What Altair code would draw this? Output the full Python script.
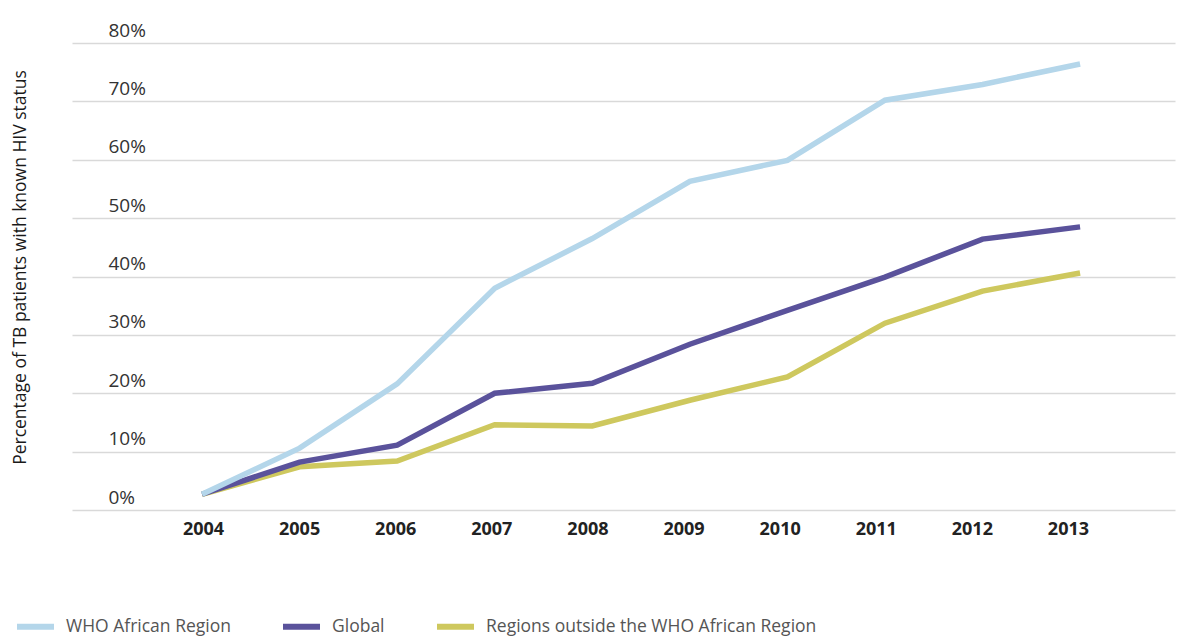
import altair as alt
import pandas as pd

years = [2004, 2005, 2006, 2007, 2008, 2009, 2010, 2011, 2012, 2013]
african = [2.7, 10.6, 21.6, 38.0, 46.5, 56.3, 59.9, 70.2, 72.9, 76.4]
global_ = [2.7, 8.2, 11.1, 20.0, 21.7, 28.4, 34.2, 39.9, 46.4, 48.5]
outside = [2.7, 7.4, 8.4, 14.6, 14.4, 18.8, 22.8, 32.0, 37.5, 40.6]

series_names = ["WHO African Region", "Global", "Regions outside the WHO African Region"]
series_colors = ["#b4d6ea", "#5a529b", "#cec85e"]
y_ticks = [0, 10, 20, 30, 40, 50, 60, 70, 80]

rows = []
for name, vals in [(series_names[2], outside), (series_names[1], global_), (series_names[0], african)]:
    for yr, v in zip(years, vals):
        rows.append({"year": yr, "value": v, "series": name})
df = pd.DataFrame(rows)
year_df = pd.DataFrame({"year": years})

FONT = "Open Sans"

lines = alt.Chart(df).mark_line(strokeWidth=5.5).encode(
    x=alt.X("year:Q", scale=alt.Scale(domain=[2002.667, 2013.973], nice=False, zero=False), axis=None),
    y=alt.Y(
        "value:Q",
        scale=alt.Scale(domain=[0, 80], nice=False),
        axis=alt.Axis(
            values=y_ticks,
            labelExpr="datum.value + '%'",
            grid=True, gridColor="#d9d9d9", gridWidth=1.5,
            domain=False, ticks=False,
            labelAlign="left", labelPadding=-36, labelBaseline="alphabetic",
            labelOffset=-7, labelFlush=False,
            labelFontSize=19, labelColor="#333333", labelFont=FONT,
            title="Percentage of TB patients with known HIV status",
            titleFontSize=17.5, titleFontWeight="normal", titleColor="#1a1a1a", titleFont=FONT,
            titleX=-52, titleY=224, titleBaseline="middle", titleAlign="center",
        ),
    ),
    color=alt.Color(
        "series:N",
        scale=alt.Scale(domain=series_names, range=series_colors),
        legend=alt.Legend(
            orient="none", legendX=-58, legendY=562, direction="horizontal",
            title=None, symbolType="stroke", symbolStrokeWidth=6, symbolSize=1369,
            labelFontSize=17.5, labelFont=FONT, labelColor="#555555", labelOffset=9,
            columnPadding=40, labelLimit=0,
        ),
    ),
)

xaxis = alt.Chart(year_df).mark_point(opacity=0).encode(
    x=alt.X(
        "year:Q",
        scale=alt.Scale(domain=[2002.637, 2014.114], nice=False, zero=False),
        axis=alt.Axis(
            values=years, format="d", grid=False, domain=False, ticks=False,
            labelPadding=10, labelFontSize=18, labelFontWeight="bold",
            labelColor="#222222", labelFont=FONT, labelFlush=False, title=None,
        ),
    ),
)

chart = alt.layer(lines, xaxis).resolve_scale(x="independent").properties(
    width=1103, height=467,
    autosize=alt.AutoSizeParams(type="none"),
    padding={"left": 64, "top": 35, "right": 20, "bottom": 127},
).configure(font=FONT).configure_view(stroke=None)

chart.save("out.html", embed_options={"renderer": "svg", "actions": False})
